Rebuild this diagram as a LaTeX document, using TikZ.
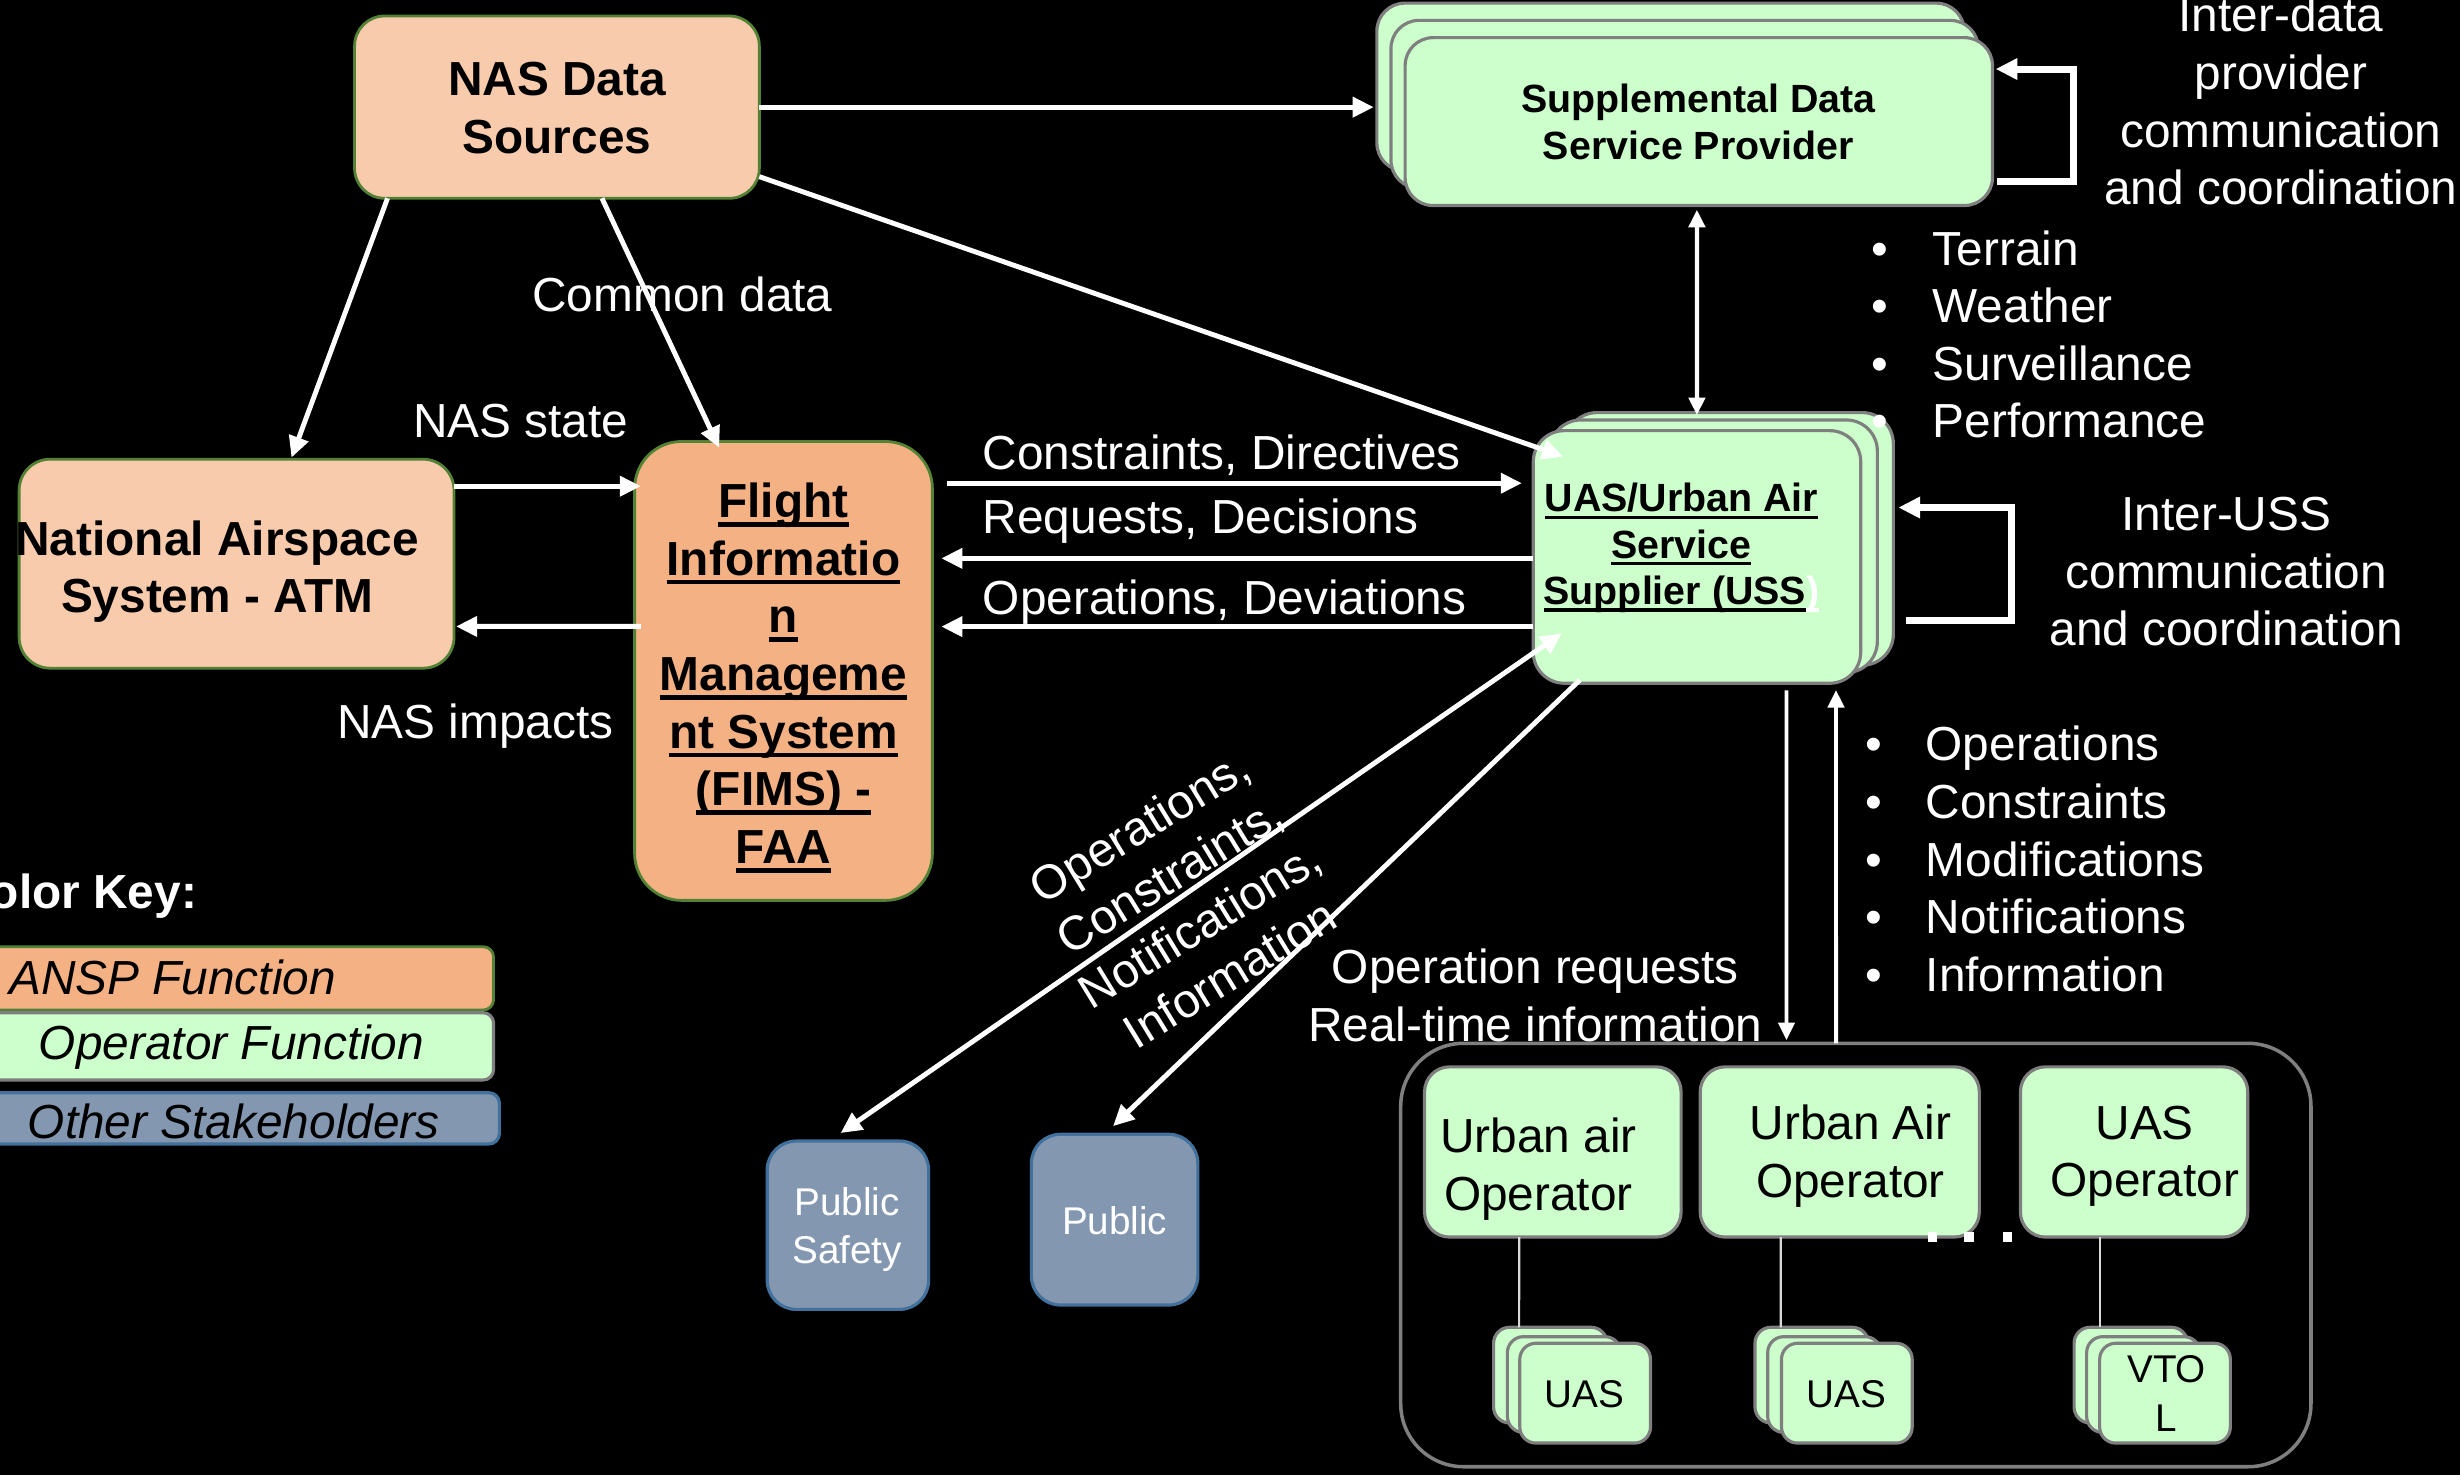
\documentclass[tikz,border=0pt]{standalone}
\usepackage{fontspec}
\setmainfont{Liberation Sans}
\usetikzlibrary{arrows.meta,calc}

\definecolor{peach}{HTML}{F8CBAD}
\definecolor{anspfill}{HTML}{F4B183}
\definecolor{opgreen}{HTML}{CCFFCC}
\definecolor{stake}{HTML}{8497B0}
\definecolor{olive}{HTML}{548235}
\definecolor{edgegray}{HTML}{7F7F7F}
\definecolor{stakeedge}{HTML}{41719C}

% thick underline for the bold box titles
\newsavebox\ulinebox
\newcommand\ulthick[1]{\sbox\ulinebox{#1}\rlap{\rule[-2.6pt]{\wd\ulinebox}{1.3pt}}\usebox\ulinebox}
\newcommand\ulthin[1]{\sbox\ulinebox{#1}\rlap{\rule[-2.1pt]{\wd\ulinebox}{1pt}}\usebox\ulinebox}

% one drawing unit
\def\ov{0.15689mm}

\begin{document}
\begin{tikzpicture}[x=\ov, y=-\ov,
  sz/.style 2 args={minimum width=#1*\ov, minimum height=#2*\ov, inner sep=0pt, outer sep=0pt},
  nasbox/.style={draw=olive, line width=0.8pt, fill=peach},
  anspbox/.style={draw=olive, line width=0.8pt, fill=anspfill},
  grnbox/.style={draw=edgegray, line width=0.9pt, fill=opgreen},
  stkbox/.style={draw=stakeedge, line width=0.9pt, fill=stake},
  lbl/.style={text=white, font=\fontsize{13.6pt}{16.4pt}\selectfont, inner sep=0pt, align=center},
  blk/.style={text=black, font=\fontsize{13.6pt}{16.4pt}\selectfont, inner sep=0pt, align=center},
  bblk/.style={text=black, font=\bfseries\fontsize{13.6pt}{16.4pt}\selectfont, inner sep=0pt, align=center},
  sbold/.style={text=black, font=\bfseries\fontsize{11.2pt}{13.4pt}\selectfont, inner sep=0pt, align=center},
  ubold/.style={text=black, font=\bfseries\fontsize{11.2pt}{13.2pt}\selectfont, inner sep=0pt, align=center},
  small/.style={text=black, font=\fontsize{11pt}{13.75pt}\selectfont, inner sep=0pt, align=center},
  keytxt/.style={text=black, font=\itshape\fontsize{13.6pt}{16.4pt}\selectfont, inner sep=0pt},
  flow/.style={draw=white, line width=1.4pt, -{Triangle[length=6pt,width=5.6pt]}},
  flowboth/.style={draw=white, line width=1.4pt, {Triangle[length=6pt,width=5.6pt]}-{Triangle[length=6pt,width=5.6pt]}},
  thinboth/.style={draw=white, line width=1.2pt, {Triangle[length=5pt,width=4.6pt]}-{Triangle[length=5pt,width=4.6pt]}},
  thinflow/.style={draw=white, line width=1.1pt, -{Triangle[length=5pt,width=4.6pt]}},
  loopln/.style={draw=white, line width=2pt, -{Triangle[length=6.2pt,width=5.8pt]}},
  link/.style={draw=white!85!black, line width=0.6pt}
]
\useasboundingbox (0,0) rectangle (1568,940);
\fill[black] (-60,-60) rectangle (1628,1000);

% ---------- boxes ----------
\node[nasbox, sz={258}{116.2}, rounded corners=3mm] (nas) at (355,68.3) {};

\node[grnbox, sz={374.4}{107}, rounded corners=2.8mm] (supp3) at (1064.8,55.5) {};
\node[grnbox, sz={374.4}{107}, rounded corners=2.8mm] (supp2) at (1073.8,66.5) {};
\node[grnbox, sz={374.4}{107}, rounded corners=2.8mm] (supp) at (1082.8,77.5) {};

\node[nasbox, sz={277.2}{133.2}, rounded corners=3.1mm] (atm) at (150.8,359.3) {};
\node[anspbox, sz={189.8}{292.5}, rounded corners=4.7mm] (fims) at (499.4,427.65) {};

\node[grnbox, sz={208.7}{161}, rounded corners=3.1mm] (uss3) at (1102.45,343.5) {};
\node[grnbox, sz={208.7}{161}, rounded corners=3.1mm] (uss2) at (1092.25,348.2) {};
\node[grnbox, sz={208.7}{161}, rounded corners=3.1mm] (uss) at (1081.65,355) {};

\node[stkbox, sz={102.9}{107.3}, rounded corners=2.9mm] (psafe) at (540.45,780.95) {};
\node[stkbox, sz={106.1}{108.8}, rounded corners=2.9mm] (public) at (710.45,777.4) {};

% operators group
\node[draw=edgegray, line width=1pt, sz={580.2}{269.9}, rounded corners=6.3mm] (ops) at (1182.9,799.95) {};
\node[grnbox, sz={163.5}{108.5}, rounded corners=2.5mm] (op1) at (989.75,734.25) {};
\node[grnbox, sz={177.9}{108.5}, rounded corners=2.5mm] (op2) at (1172.65,734.25) {};
\node[grnbox, sz={144.9}{108.5}, rounded corners=2.5mm] (op3) at (1360.25,734.25) {};

\foreach \nm/\bx/\mx/\fx in {u1/988.15/996.95/1010.35, u2/1154.75/1162.85/1177.15, u3/1358.15/1366.15/1379.95}{
  \node[grnbox, sz={72.3}{61}, rounded corners=1.6mm] (\nm c) at (\bx,876.5) {};
  \node[grnbox, sz={72.3}{61}, rounded corners=1.6mm] (\nm b) at (\mx,882.5) {};
  \node[grnbox, sz={83.3}{63.6}, rounded corners=1.6mm] (\nm a) at (\fx,888) {};
}

% colour key
\node[anspbox, sz={344.6}{40.4}, rounded corners=1.05mm] (keyansp) at (142.3,623.6) {};
\node[grnbox, sz={344.6}{42.9}, rounded corners=1.05mm] (keyop) at (142.3,666.95) {};
\node[stkbox, sz={348.3}{32.7}, rounded corners=1.05mm] (keyother) at (144.15,712.85) {};

% ---------- box texts ----------
\node[bblk] (nastext) at (355,68.75) {NAS Data\\Sources};
\node[sbold] (supptext) at (1082.5,78) {Supplemental Data\\Service Provider};
\node[bblk] (atmtext) at (138.5,364.3) {National Airspace\\System - ATM};
\node[bblk] (fimstext) at (499.4,432) {\ulthick{Flight}\\\ulthick{Informatio}\\\ulthick{n}\\\ulthick{Manageme}\\\ulthick{nt System}\\\ulthick{(FIMS) -}\\\ulthick{FAA}};
\node[ubold] (usstext) at (1071.7,349.25) {\ulthin{UAS/Urban Air}\\\ulthin{Service}\\\ulthin{Supplier (USS}{\color{white}\ulthin{)}}};
\node[small, text=white] (psafetext) at (540,783.8) {Public\\Safety};
\node[small, text=white, anchor=base] (publictext) at (710.5,787) {Public};
\node[blk] (op1text) at (980.6,745.3) {Urban air\\Operator};
\node[blk] (op2text) at (1179.5,737) {Urban Air\\Operator};
\node[blk] (op3text) at (1367,737) {UAS\\Operator};
\node[small] (u1text) at (1010,888.8) {UAS};
\node[small] (u2text) at (1177,888.8) {UAS};
\node[small] (u3text) at (1381,888.3) {VTO\\L};

\node[bblk, text=white, anchor=base east] (keytitle) at (126,579) {Color Key:};
\node[keytxt, anchor=base] (keyansptext) at (110,634.2) {ANSP Function};
\node[keytxt, anchor=base] (keyoptext) at (147.6,675.6) {Operator Function};
\node[keytxt, anchor=base] (keyothertext) at (149,725.6) {Other Stakeholders};

% ---------- connectors ----------
\draw[flow] (nas.east) -- ($(nas.east -| supp3.west)+(-2,0)$);
\draw[flow] ($(nas.south east)+(0,-13.8)$) -- ($(uss.north west)+(19,16.5)$);
\draw[flow] ($(nas.south west)+(21,0)$) -- ($(atm.north)+(35,-1)$);
\draw[flow] ($(nas.south)+(28.7,0)$) -- ($(fims.north)+(-41,4)$);

\draw[flow] ($(atm.north east)+(0,17.2)$) -- ($(fims.north west)+(4,28.5)$);
\draw[flow] ($(fims.north west)+(4,117.9)$) -- ($(atm.north east)+(1.3,106.6)$);

\draw[flow] ($(fims.north east)+(9.4,26.6)$) -- ($(uss.north west)+(-7.3,33.5)$);
\draw[flow] ($(uss.north west)+(0,81.4)$) -- ($(fims.north east)+(5.7,74.5)$);
\draw[flow] ($(uss.north west)+(0,124.9)$) -- ($(fims.north east)+(5.7,118)$);

\draw[thinboth] ($(supp.south)+(-1.2,2.7)$) -- ($(uss3.north west)+(83.5,1.6)$);
\draw[loopln] ($(supp.south east)+(3,-15)$) -- ++(48.6,0) |- ($(supp.north east)+(2,20)$);
\draw[loopln] ($(uss3.north east)+(8,132.5)$) -- ++(67.6,0) |- ($(uss3.north east)+(3.2,60.5)$);

\draw[flowboth] ($(uss.north west)+(18.1,129.2)$) -- ($(psafe.north)+(-4.65,-5.1)$);
\draw[flow] ($(uss.south west)+(29.7,-2.1)$) -- ($(public.north)+(-1,-5.2)$);

\draw[thinflow] ($(uss.south)+(57,4.5)$) -- ($(ops.north)+(-44.2,-2)$);
\draw[thinflow] ($(ops.north)+(-12.6,0)$) -- ($(uss.south)+(88.6,4.3)$);

\draw[link] ($(op1.south)+(-21.4,0)$) -- ($(u1c.north west)+(16.3,0)$);
\draw[link] ($(op2.south)+(-37.65,0)$) -- ($(u2c.north west)+(16.4,0)$);
\draw[link] ($(op3.south)+(-21.95,0)$) -- ($(u3c.north west)+(16.3,0)$);

% ellipsis between the operator boxes
\fill[white] (1228.6,785) rectangle (1234.3,791.4);
\fill[white] (1252,785) rectangle (1258,791.4);
\fill[white] (1276.7,785) rectangle (1282.5,791.4);

% ---------- connector labels ----------
\node[lbl, anchor=base] (commonlbl) at (435,198.7) {Common data};
\node[lbl, anchor=base] (statelbl) at (332,279) {NAS state};
\node[lbl, anchor=base] (impactlbl) at (303,471) {NAS impacts};
\node[lbl, anchor=base west] (cdlbl) at (626,299) {Constraints, Directives};
\node[lbl, anchor=base west] (rdlbl) at (626,340) {Requests, Decisions};
\node[lbl, anchor=base west] (odlbl) at (626,391.6) {Operations, Deviations};
\node[lbl] (interdata) at (1453.8,64.5) {Inter-data\\provider\\communication\\and coordination};
\node[lbl] (interuss) at (1419,364.4) {Inter-USS\\communication\\and coordination};
\node[lbl] (oprlbl) at (978.5,634.6) {Operation requests\\Real-time information};
\node[lbl, rotate=31.5] (pslbl) at (755,573.6) {Operations,\\Constraints,\\Notifications,\\Information};

% bullet lists
\node[lbl, anchor=base west] (sd1) at (1192.7,169) {\makebox[17.3pt][l]{•}Terrain};
\node[lbl, anchor=base west] (sd2) at (1192.7,205.7) {\makebox[17.3pt][l]{•}Weather};
\node[lbl, anchor=base west] (sd3) at (1192.7,242.4) {\makebox[17.3pt][l]{•}Surveillance};
\node[lbl, anchor=base west] (sd4) at (1192.7,279.1) {\makebox[17.3pt][l]{•}Performance};

\node[lbl, anchor=base west] (od1) at (1188.3,485) {\makebox[17.3pt][l]{•}Operations};
\node[lbl, anchor=base west] (od2) at (1188.3,521.7) {\makebox[17.3pt][l]{•}Constraints};
\node[lbl, anchor=base west] (od3) at (1188.3,558.4) {\makebox[17.3pt][l]{•}Modifications};
\node[lbl, anchor=base west] (od4) at (1188.3,595.1) {\makebox[17.3pt][l]{•}Notifications};
\node[lbl, anchor=base west] (od5) at (1188.3,631.8) {\makebox[17.3pt][l]{•}Information};
\end{tikzpicture}
\end{document}
